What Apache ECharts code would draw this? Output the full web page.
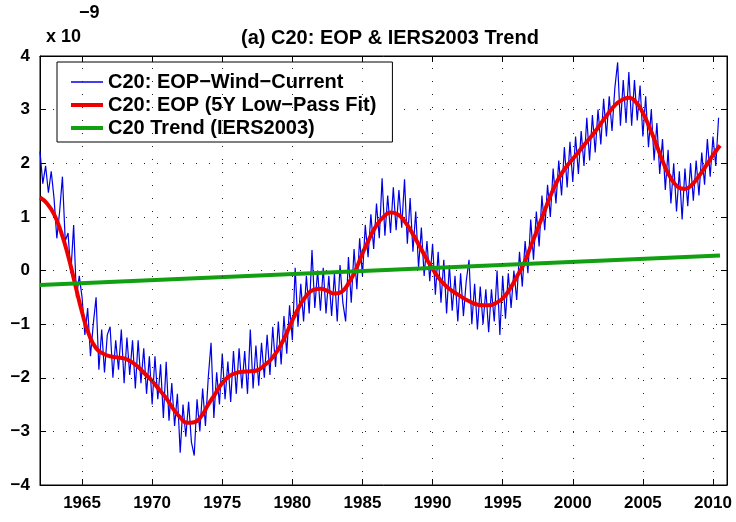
<!DOCTYPE html>
<html>
<head>
<meta charset="utf-8">
<script src="https://cdn.jsdelivr.net/npm/echarts@6/dist/echarts.min.js"></script>
<style>
  html, body { margin: 0; padding: 0; background: #fff; }
  #chart { width: 736px; height: 522px; }
</style>
</head>
<body>
<div id="chart"></div>
<script>
// C20 values in units of 1e-9
const rawStart = 1962.0;
const rawStep = 0.2;
const rawValues = [
  2.22, 1.62, 1.95, 1.45, 1.85,
  1.35, 0.6, 1.1, 1.75, 0.55,
  0.7, -0.05, 0.85, -0.5, -0.1,
  -0.5, -1.2, -0.7, -1.6, -1.0,
  -0.5, -1.85, -1.1, -1.9, -1.2,
  -1.05, -2.0, -1.3, -1.85, -1.1,
  -2.1, -1.25, -1.95, -1.3, -2.2,
  -1.3, -2.1, -1.45, -2.3, -1.6,
  -2.5, -1.6, -2.4, -1.75, -2.75,
  -1.7, -2.8, -2.1, -2.9, -2.3,
  -3.4, -2.5, -3.1, -2.45, -3.2,
  -3.45, -2.4, -3.0, -2.2, -2.9,
  -2.0, -1.35, -2.75, -1.9, -2.5,
  -1.55, -2.4, -1.7, -2.45, -1.5,
  -2.3, -1.45, -2.2, -1.5, -2.3,
  -1.1, -2.2, -1.4, -2.15, -1.35,
  -2.0, -1.2, -1.95, -1.05, -1.8,
  -0.95, -1.75, -0.85, -1.55, -0.65,
  -1.3, 0.05, -1.05, -0.25, -0.95,
  -0.1, -0.8, 0.38, -0.7, 0.0,
  -0.75, 0.05, -0.8, -0.1, -0.85,
  -0.05, -0.95, 0.1, -0.6, -0.95,
  0.25, -0.6, 0.4, -0.35, 0.6,
  -0.1, 0.85, 0.25, 1.05, 0.4,
  1.25, 0.6, 1.72, 0.65, 1.4,
  0.7, 1.55, 0.75, 1.5, 0.8,
  1.7, 0.5, 1.35, 0.35, 1.1,
  0.05, 0.8, -0.1, 0.55, -0.2,
  0.5, -0.45, 0.35, -0.6, 0.2,
  -0.8, 0.1, -0.75, -0.1, -0.95,
  -0.05, -0.85, -0.2, 0.2, -1.0,
  -0.25, -1.1, -0.3, -1.0, -0.35,
  -1.15, -0.35, -0.95, 0.0, -1.2,
  -0.1, -0.9, -0.05, -0.7, 0.0,
  -0.55, 0.35, -0.3, 0.55, -0.05,
  0.95, 0.2, 1.1, 0.45, 1.4,
  0.75, 1.6, 1.0, 1.9, 1.25,
  2.05, 1.4, 2.3, 1.55, 2.4,
  1.65, 2.5, 1.8, 2.6, 1.95,
  2.85, 2.05, 2.9, 2.2, 3.0,
  2.35, 3.2, 2.5, 3.25, 2.6,
  3.4, 3.88, 2.7, 3.55, 2.75,
  3.7, 2.7, 3.55, 2.8, 3.45,
  2.5, 3.25, 2.3, 3.0, 2.05,
  2.75, 1.8, 2.45, 1.5, 2.25,
  1.25, 2.0, 1.1, 1.85, 0.95,
  1.9, 1.2, 2.0, 1.3, 2.05,
  1.4, 2.2, 1.6, 2.45, 1.75,
  2.5, 1.95, 2.85
];

const fitStart = 1962.0;
const fitStep = 0.5;
const fitValues = [
  1.36, 1.25, 1.05, 0.72, 0.28, -0.25, -0.78, -1.2, -1.45, -1.55,
  -1.6, -1.62, -1.64, -1.7, -1.8, -1.93, -2.06, -2.22, -2.38, -2.58,
  -2.74, -2.84, -2.83, -2.72, -2.5, -2.3, -2.1, -1.97, -1.91, -1.89,
  -1.88, -1.86, -1.77, -1.65, -1.47, -1.22, -0.93, -0.67, -0.47, -0.36,
  -0.34, -0.38, -0.43, -0.4, -0.24, 0.0, 0.32, 0.6, 0.84, 1.0,
  1.08, 1.05, 0.92, 0.72, 0.49, 0.25, 0.03, -0.16, -0.3, -0.4,
  -0.48, -0.56, -0.62, -0.65, -0.65, -0.61, -0.52, -0.35, -0.12, 0.12,
  0.45, 0.78, 1.12, 1.45, 1.72, 1.92, 2.08, 2.24, 2.4, 2.56,
  2.74, 2.92, 3.08, 3.18, 3.22, 3.14, 2.94, 2.65, 2.32, 1.98,
  1.72, 1.56, 1.52, 1.6, 1.76, 1.95, 2.15, 2.33
];

const trendYears = [1962.0, 2010.5];
const trendValues = [-0.27, 0.28];

const xTicks = [1965, 1970, 1975, 1980, 1985, 1990, 1995, 2000, 2005, 2010];
const seriesNames = ['C20: EOP\u2212Wind\u2212Current', 'C20: EOP (5Y Low\u2212Pass Fit)', 'C20 Trend (IERS2003)'];

const FONT = 'Liberation Sans';
const chart = echarts.init(document.getElementById('chart'));

const rawData = rawValues.map((v, i) => [rawStart + i * rawStep, v]);
const fitData = fitValues.map((v, i) => [fitStart + i * fitStep, v]);
const trendData = trendYears.map((t, i) => [t, trendValues[i]]);

const dotted = { color: '#222', width: 1, type: [1, 12] };
const bigText = { fontFamily: FONT, fontSize: 20, fontWeight: 'bold', color: '#000' };
const smallText = { fontFamily: FONT, fontSize: 18, fontWeight: 'bold', color: '#000' };

const option = {
  animation: false,
  title: [
    { text: '(a) C20: EOP & IERS2003 Trend', left: 236, top: 23, textStyle: bigText },
    { text: 'x 10', left: 41, top: 23, textStyle: smallText },
    { text: '\u22129', left: 74, top: -1, textStyle: smallText }
  ],
  grid: { left: 40, right: 9, top: 56, bottom: 37, show: true, borderColor: '#000', borderWidth: 1, backgroundColor: '#fff' },
  legend: {
    orient: 'vertical', left: 57, top: 62,
    backgroundColor: '#fff', borderColor: '#000', borderWidth: 1,
    padding: [10, 16, 4, 12], itemGap: 3, itemWidth: 32, itemHeight: 19,
    itemStyle: { opacity: 0 },
    textStyle: bigText,
    data: [
      { name: seriesNames[0], lineStyle: { width: 1.5 } },
      { name: seriesNames[1], lineStyle: { width: 4 } },
      { name: seriesNames[2], lineStyle: { width: 4 } }
    ]
  },
  xAxis: [
    {
      type: 'value', min: 1962, max: 2011, position: 'bottom',
      axisLine: { show: true, onZero: false, lineStyle: { color: '#000' } },
      axisTick: { show: true, inside: true, length: 6, customValues: xTicks, lineStyle: { color: '#000' } },
      axisLabel: { customValues: xTicks, margin: 10, color: '#000', fontFamily: FONT, fontSize: 17, fontWeight: 'bold',
        formatter: v => String(v) },
      splitLine: { show: false }
    },
    {
      type: 'value', min: 1962, max: 2011, position: 'top',
      axisLine: { show: true, onZero: false, lineStyle: { color: '#000' } },
      axisTick: { show: true, inside: true, length: 6, customValues: xTicks, lineStyle: { color: '#000' } },
      axisLabel: { show: false },
      splitLine: { show: false }
    }
  ],
  yAxis: [
    {
      type: 'value', min: -4, max: 4, interval: 1, position: 'left',
      axisLine: { show: true, onZero: false, lineStyle: { color: '#000' } },
      axisTick: { show: true, inside: true, length: 6, lineStyle: { color: '#000' } },
      axisLabel: { margin: 10, color: '#000', fontFamily: FONT, fontSize: 17, fontWeight: 'bold',
        formatter: v => String(v).replace('-', '\u2212') },
      splitLine: { show: true, lineStyle: dotted }
    },
    {
      type: 'value', min: -4, max: 4, interval: 1, position: 'right',
      axisLine: { show: true, onZero: false, lineStyle: { color: '#000' } },
      axisTick: { show: true, inside: true, length: 6, lineStyle: { color: '#000' } },
      axisLabel: { show: false },
      splitLine: { show: false }
    }
  ],
  series: [
    {
      name: seriesNames[0], type: 'line', data: rawData, symbol: 'none',
      lineStyle: { color: '#0000e6', width: 1.2 }, itemStyle: { color: '#0000e6' },
      markLine: {
        silent: true, symbol: 'none', label: { show: false },
        lineStyle: dotted,
        data: xTicks.map(t => ({ xAxis: t }))
      },
      z: 2
    },
    {
      name: seriesNames[1], type: 'line', data: fitData, symbol: 'none', smooth: true,
      lineStyle: { color: '#ee0000', width: 4 }, itemStyle: { color: '#ee0000' }, z: 3
    },
    {
      name: seriesNames[2], type: 'line', data: trendData, symbol: 'none',
      lineStyle: { color: '#12a012', width: 4 }, itemStyle: { color: '#12a012' }, z: 4
    }
  ]
};

chart.setOption(option);
</script>
</body>
</html>
